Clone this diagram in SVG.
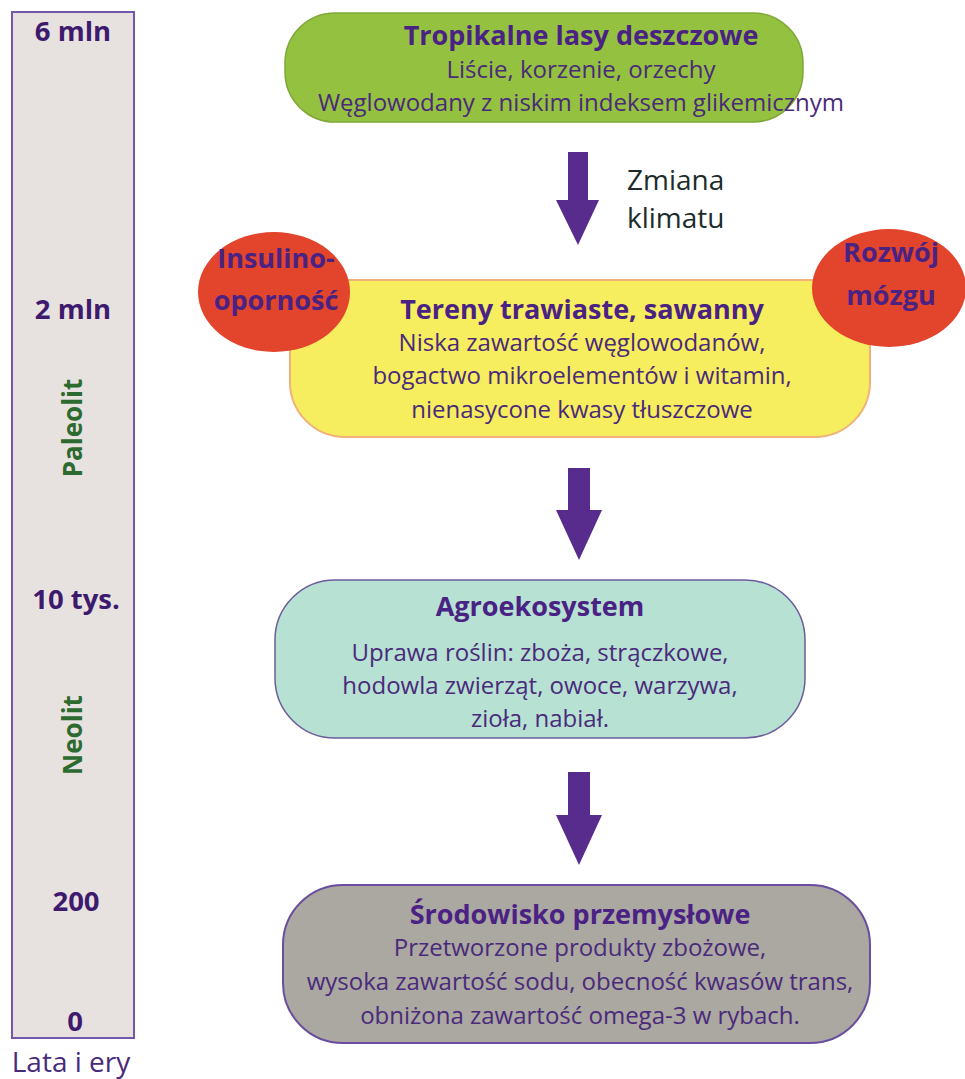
<svg xmlns="http://www.w3.org/2000/svg" width="965" height="1079" viewBox="0 0 965 1079">
<style>
text{font-family:"Open Sans","Noto Sans","Liberation Sans",sans-serif;text-anchor:middle}
.yr{font-size:27.5px;font-weight:bold;fill:#3d1a6e}
.era{font-size:26px;font-weight:bold;fill:#2d6a30}
.t{font-size:27px;font-weight:bold;fill:#4a2284}
.b{font-size:24px;fill:#4a2a7a}
.el{font-size:27px;font-weight:bold;fill:#4a2284}
.arr{fill:#582c8c}
</style>
<g id="timeline">
<rect x="12" y="12" width="122" height="1026" fill="#e7e2df" stroke="#7357a8" stroke-width="2"/>
<text class="yr" x="73" y="41">6 mln</text>
<text class="yr" x="73" y="319">2 mln</text>
<text class="era" transform="translate(82,428) rotate(-90)">Paleolit</text>
<text class="yr" x="76" y="609">10 tys.</text>
<text class="era" transform="translate(82,735) rotate(-90)">Neolit</text>
<text class="yr" x="76" y="911">200</text>
<text class="yr" x="75" y="1031">0</text>
<text x="71" y="1072" style="font-size:28px;fill:#4a2a7a">Lata i ery</text>
</g>
<g id="connectors">
<path class="arr" d="M568,152 H588 V200 H599 L578,245 L556,200 H568 Z"/>
<path class="arr" d="M568,468 H590 V510 H602 L579,560 L556,510 H568 Z"/>
<path class="arr" d="M568,772 H590 V815 H602 L579,865 L556,815 H568 Z"/>
<text x="627" y="190" style="font-size:28px;fill:#1d2b2b;text-anchor:start">Zmiana</text>
<text x="627" y="228" style="font-size:28px;fill:#1d2b2b;text-anchor:start">klimatu</text>
</g>
<g id="node-tropikalne">
<rect x="285" y="13" width="518" height="109" rx="50" fill="#94c13f" stroke="#7fa838" stroke-width="1.5"/>
<text class="t" x="581" y="45">Tropikalne lasy deszczowe</text>
<text class="b" x="581" y="78">Liście, korzenie, orzechy</text>
<text class="b" x="581" y="111">Węglowodany z niskim indeksem glikemicznym</text>
</g>
<g id="node-tereny">
<rect x="290" y="280" width="580" height="157" rx="55" fill="#f6ed5f" stroke="#f0b27a" stroke-width="2"/>
<text class="t" x="582" y="319">Tereny trawiaste, sawanny</text>
<text class="b" x="582" y="351">Niska zawartość węglowodanów,</text>
<text class="b" x="582" y="384">bogactwo mikroelementów i witamin,</text>
<text class="b" x="582" y="418">nienasycone kwasy tłuszczowe</text>
</g>
<g id="node-insulino">
<ellipse cx="274" cy="292" rx="76" ry="60" fill="#e2452b"/>
<text class="el" x="276" y="268">Insulino-</text>
<text class="el" x="276" y="310">oporność</text>
</g>
<g id="node-rozwoj">
<ellipse cx="889" cy="288" rx="77" ry="59" fill="#e2452b"/>
<text class="el" x="891" y="262">Rozwój</text>
<text class="el" x="891" y="305">mózgu</text>
</g>
<g id="node-agro">
<rect x="275" y="580" width="530" height="158" rx="60" fill="#b6e1d3" stroke="#6c5c9c" stroke-width="1.5"/>
<text class="t" x="540" y="616">Agroekosystem</text>
<text class="b" x="540" y="661">Uprawa roślin: zboża, strączkowe,</text>
<text class="b" x="540" y="694">hodowla zwierząt, owoce, warzywa,</text>
<text class="b" x="540" y="727">zioła, nabiał.</text>
</g>
<g id="node-przemysl">
<rect x="283" y="885" width="587" height="158" rx="60" fill="#aba7a1" stroke="#6a4e9e" stroke-width="2"/>
<text class="t" x="580" y="924">Środowisko przemysłowe</text>
<text class="b" x="580" y="956">Przetworzone produkty zbożowe,</text>
<text class="b" x="580" y="990">wysoka zawartość sodu, obecność kwasów trans,</text>
<text class="b" x="580" y="1024">obniżona zawartość omega-3 w rybach.</text>
</g>
</svg>
